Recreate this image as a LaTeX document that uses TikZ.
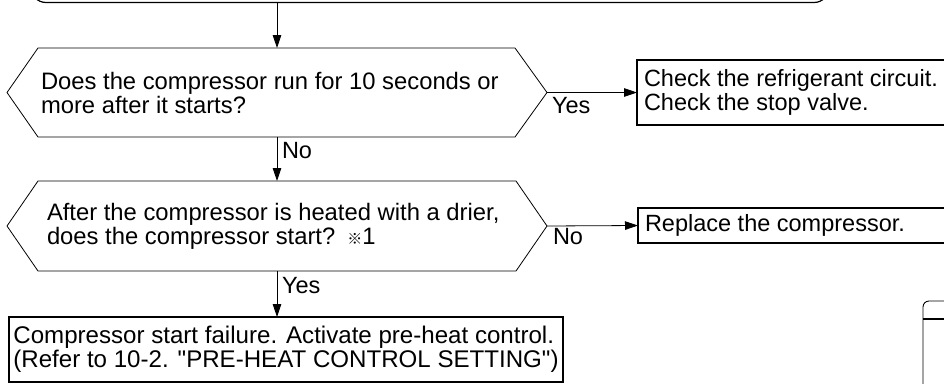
\documentclass[tikz,border=0pt]{standalone}
\usepackage{fontspec}
\setmainfont{Liberation Sans}[Ligatures=TeXOff]
\newfontfamily\cjk{Noto Sans CJK JP}
\usetikzlibrary{arrows.meta,calc}
\begin{document}
\begin{tikzpicture}[x=1pt,y=-1pt,
  every node/.style={inner sep=0pt,outer sep=0pt},
  txt/.style={font=\fontsize{23.5}{24}\selectfont},
  hextxt/.style={font=\fontsize{23.8}{24}\selectfont,align=flush left,anchor=west},
  hexnode/.style={minimum width=540pt,minimum height=89pt},
  hexline/.style={line width=0.8pt},
  resbox/.style={draw,line width=2pt,txt,align=flush left,anchor=west,text width=330pt,inner xsep=7pt},
  arr/.style={line width=0.8pt,-{Triangle[length=13pt,width=8.5pt]}},
  lbl/.style={txt,anchor=north west}]
\useasboundingbox (0,0) rectangle (944,383);
\clip (0,0) rectangle (944,383);

% top (cut-off) box
\node[draw,line width=1.2pt,rounded corners=15pt,minimum width=798pt,minimum height=60pt] (top) at (430,-27.5) {};

% decision 1
\node[hexnode] (q1) at (277,92.5) {};
\draw[hexline] (q1.west) -- ($(q1.north west)+(31,0)$) -- ($(q1.north east)+(-32,0)$) -- (q1.east)
  -- ($(q1.south east)+(-32,0)$) -- ($(q1.south west)+(31,0)$) -- cycle;
\node[hextxt] (q1t) at (41,92.5) {Does the compressor run for 10 seconds or\\more after it starts?};

% decision 2
\node[hexnode,minimum height=90pt] (q2) at (277,226) {};
\draw[hexline] (q2.west) -- ($(q2.north west)+(31,0)$) -- ($(q2.north east)+(-31,0)$) -- (q2.east)
  -- ($(q2.south east)+(-31,0)$) -- ($(q2.south west)+(31,0)$) -- cycle;
\node[hextxt] (q2t) at (47,226) {After the compressor is heated with a drier,\\does the compressor start?\hspace{0.5em}{\cjk\fontsize{15}{24}\selectfont ※}1};

% result boxes
\node[resbox,minimum height=65pt] (a1) at (637,92.5) {Check the refrigerant circuit.\\Check the stop valve.};
\node[resbox,minimum height=35pt] (a2) at (638,225.5) {Replace the compressor.};
\node[draw,line width=2pt,font=\fontsize{24.1}{24}\selectfont,align=flush left,minimum width=554pt,minimum height=65pt] (a3) at (286,349.5)
  {Compressor start failure. Activate pre-heat control.\\(Refer to 10-2. "PRE-HEAT CONTROL SETTING")};

% connectors
\draw[arr] (top.south -| q1.north) -- (q1.north);
\draw[arr] (q1.east) -- node[lbl,pos=0,xshift=5pt,yshift=-4.5pt] (l1) {Yes} (a1.west);
\draw[arr] (q1.south) -- node[lbl,pos=0,xshift=5pt,yshift=-5pt] (l2) {No} (q2.north);
\draw[arr] (q2.east) -- node[lbl,pos=0,xshift=6pt,yshift=-2pt] (l3) {No} (a2.west);
\draw[arr] (q2.south) -- node[lbl,pos=0,xshift=5pt,yshift=-6pt] (l4) {Yes} (q2.south |- a3.north);

% partial shape at bottom right
\draw[line width=0.9pt,rounded corners=6pt] (950,301) -- (923,301) -- (923,390);
\draw[line width=1.2pt] (923,319) -- (950,319);
\end{tikzpicture}
\end{document}
